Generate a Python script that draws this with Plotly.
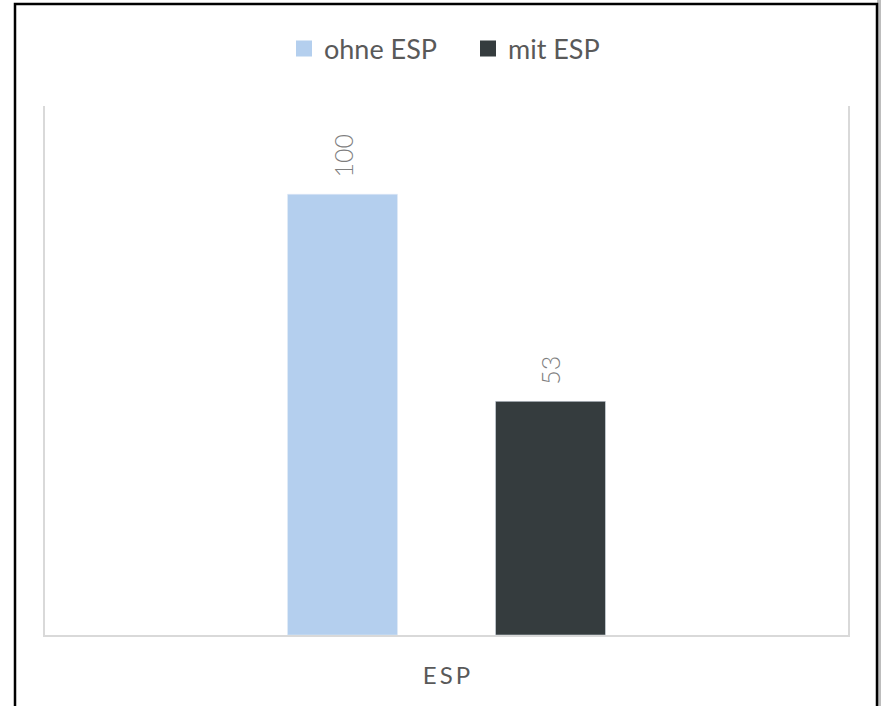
import plotly.graph_objects as go

categories = ["ESP"]
category_labels = ["E\u2009S\u2009P"]
series_names = ["ohne ESP", "mit ESP"]
values_ohne = [100]
values_mit = [53]
colors = ["#b4cfee", "#353c3e"]

W, H = 881, 706
L, R, T, B = 45, 33, 106, 71
pw, ph = W - L - R, H - T - B

def px_x(x):
    return (x - L) / pw

def px_y(y):
    return (H - B - y) / ph

fig = go.Figure()
for name, vals, col in zip(series_names, [values_ohne, values_mit], colors):
    fig.add_trace(go.Bar(
        x=categories, y=vals, name=name, marker_color=col, showlegend=False,
        text=["\u00a0\u00a0" + str(v) for v in vals], textposition="outside",
        textangle=-90, cliponaxis=False,
        textfont=dict(family="Lato, sans-serif", size=25, color="#7f7f7f", weight=300),
    ))
    fig.add_trace(go.Scatter(
        x=[None], y=[None], mode="markers", name=name,
        marker=dict(symbol="square", size=19, color=col),
    ))

# outer frame
fig.add_shape(type="rect", xref="paper", yref="paper",
              x0=px_x(877), x1=px_x(881), y0=px_y(0), y1=px_y(720),
              fillcolor="#bdbdbd", line=dict(width=0), layer="below")
fig.add_shape(type="rect", xref="paper", yref="paper",
              x0=px_x(15), x1=px_x(877), y0=px_y(4), y1=px_y(720),
              line=dict(color="#000000", width=2.5), fillcolor="rgba(0,0,0,0)", layer="below")

fig.update_layout(
    width=W, height=H,
    margin=dict(l=L, r=R, t=T, b=B),
    paper_bgcolor="white", plot_bgcolor="white",
    barmode="group", bargap=0.482, bargroupgap=0.471,
    font=dict(family="Lato, sans-serif", color="#595959"),
    legend=dict(orientation="h", x=px_x(284), xanchor="left", y=px_y(49), yanchor="middle",
                font=dict(size=27, color="#595959"), itemsizing="trace",
                traceorder="normal", itemwidth=30, entrywidth=139),
    xaxis=dict(showgrid=False, showline=True, linecolor="#d9d9d9", linewidth=1.5,
               ticks="", tickvals=categories, ticktext=category_labels,
               tickfont=dict(size=24, color="#595959"), ticklabelstandoff=18),
    yaxis=dict(range=[0, 120], showgrid=False, showticklabels=False, zeroline=False,
               showline=True, mirror=True, linecolor="#d9d9d9", linewidth=1.5),
)

fig.write_html("out.html", post_script="document.body.style.margin='0';",
               config={"displayModeBar": False})
